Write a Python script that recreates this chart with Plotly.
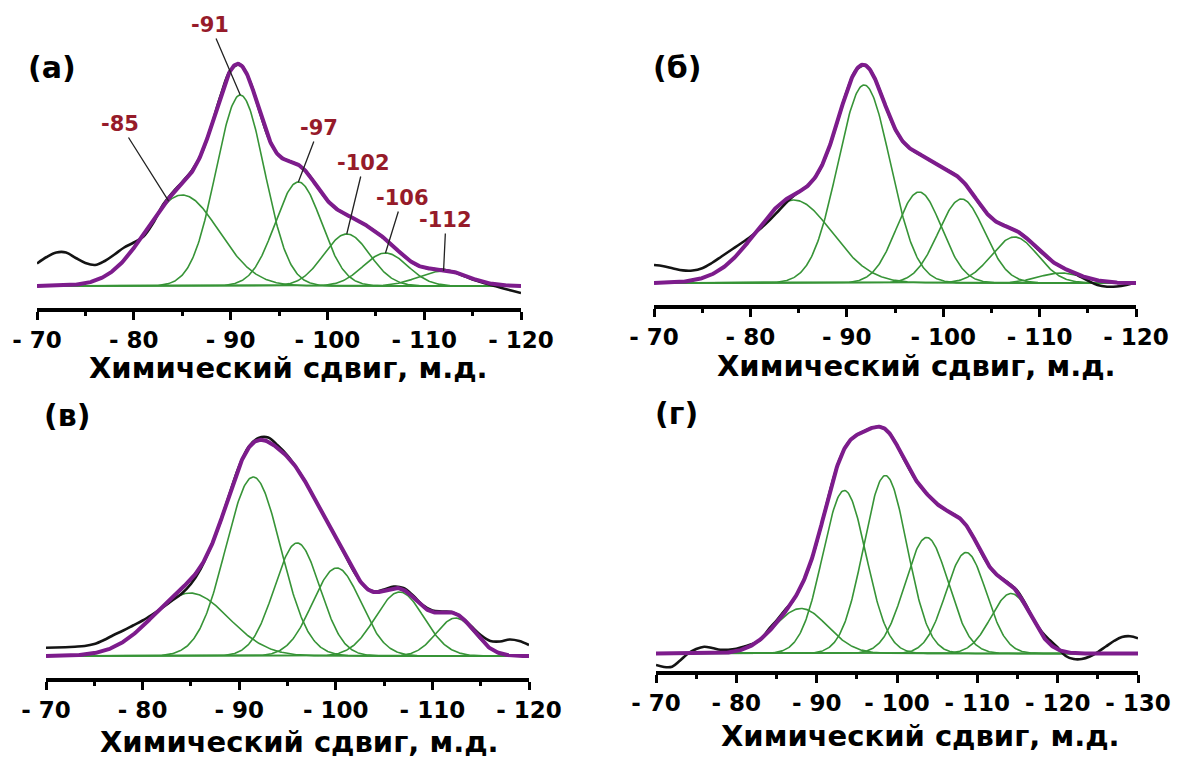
import numpy as np
import plotly.graph_objects as go

W, H = 1187, 763

# ---- deconvolution components: centre (ppm), height (a.u.), FWHM (ppm) ----
a_centers = [-85, -91, -97, -102, -106, -112]
a_heights = [91, 191, 104, 52, 33, 15]
a_fwhm = [8.9, 5.9, 5.65, 5.6, 5.4, 6.0]

b_centers = [-84.5, -91.8, -97.5, -101.9, -107.4, -112.2]
b_heights = [83, 198, 91, 84, 46, 10]
b_fwhm = [9.4, 6.4, 5.5, 5.65, 5.65, 5.4]

v_centers = [-84.9, -91.45, -96.0, -100.1, -106.6, -112.4]
v_heights = [63, 179, 113, 88, 64, 38]
v_fwhm = [9.4, 6.7, 5.55, 5.9, 5.9, 4.7]

g_centers = [-88.05, -93.45, -98.55, -103.7, -108.6, -114.2]
g_heights = [45, 163, 178, 116, 101, 60]
g_fwhm = [7.8, 6.35, 6.35, 6.35, 5.9, 5.9]

# ---- measured spectra, 1 ppm step ----
a_ppm = list(range(-70, -121, -1))
a_signal = [22.5, 29, 33.5, 33.5, 28, 23, 21, 25, 31.5, 38.5,
            43.5, 49.5, 63, 81, 93.5, 104, 115.5, 132.5, 159.7, 191.3,
            215.8, 221.4, 204.7, 174.5, 146.3, 130.3, 125.0, 121.1, 112.3, 98.6,
            85.5, 76.6, 71.1, 66.2, 60.7, 54.2, 46.7, 37.9, 29.2, 22.2,
            18.4, 17.0, 16.1, 14.2, 10.5, 6.5, 3.5, 0.8, -2, -4.5, -7]

b_ppm = list(range(-70, -121, -1))
b_signal = [18, 16.8, 14.5, 12.6, 12.5, 14.8, 20, 26.5, 33, 39.5,
            46.3, 54, 63, 73, 83, 91.0, 97.7, 109.8, 131.0, 160.5,
            191.6, 213.5, 217.4, 202.5, 177.6, 154.2, 139.4, 131.6, 126.3, 120.6,
            115.2, 110.0, 102.1, 89.9, 76.0, 64.9, 58.7, 54.9, 49.8, 41.7,
            32.2, 23.8, 17.4, 12.5, 7.5, 2.5, -2.0, -3.7, -3.5, -2, 0.5]

v_ppm = list(range(-70, -121, -1))
v_signal = [8.3, 8.5, 8.8, 9.3, 10, 12, 16, 21, 25.5, 30.5,
            35.5, 41.5, 48, 55, 62, 72, 87, 107.7, 132.8, 162.1,
            190, 209.5, 218, 218.5, 210.5, 200.5, 187.3, 171.6, 153.9, 136.3,
            118.7, 100.3, 82.5, 69.3, 64.5, 66.5, 69.5, 68, 60.5, 51,
            45.5, 44.5, 44, 39, 30, 21, 15, 14.5, 16.5, 15, 11]

g_ppm = list(range(-70, -131, -1))
g_signal = [-11.5, -13.5, -13.2, -7, 0, 4.5, 6.8, 5.5, 3.8, 3.8,
            4.8, 7, 9.5, 13.5, 24, 33, 43, 52.1, 66.2, 85.3,
            110.9, 141.7, 172.5, 196.9, 211.7, 218.6, 222.6, 225.9, 226.5, 220.8,
            208.2, 192.3, 177.8, 166.4, 157.2, 149.5, 143.8, 139.5, 133.9, 123.6,
            108.7, 93.4, 82.0, 75.4, 69.8, 62.5, 49.5, 34, 22, 13.5,
            6, -2.5, -5.5, -5.5, -3, 1.5, 7, 12.5, 16.5, 17.3, 15.2]

# ---- axis ticks ----
ab_ticks = [-70, -80, -90, -100, -110, -120]
ab_ticklabels = ["- 70", "- 80", "- 90", "- 100", "- 110", "- 120"]
ab_minor = [-75, -85, -95, -105, -115]
g_ticks = [-70, -80, -90, -100, -110, -120, -130]
g_ticklabels = ["- 70", "- 80", "- 90", "- 100", "- 110", "- 120", "- 130"]
g_minor = [-75, -85, -95, -105, -115, -125]

panel_labels = ["(а)", "(б)", "(в)", "(г)"]
axis_title = "Химический сдвиг, м.д."

GREEN = "#379437"
PURPLE = "#7d1c8c"
BLACK = "#141414"
LABEL_RED = "#961b2a"
FONT = "DejaVu Sans"


def gauss(x, c, h, w):
    return h * np.exp(-4 * np.log(2) * (np.asarray(x) - c) ** 2 / w ** 2)


panels = [
    dict(c=a_centers, h=a_heights, w=a_fwhm, ppm=a_ppm, sig=a_signal, lo=-70, hi=-120),
    dict(c=b_centers, h=b_heights, w=b_fwhm, ppm=b_ppm, sig=b_signal, lo=-70, hi=-120),
    dict(c=v_centers, h=v_heights, w=v_fwhm, ppm=v_ppm, sig=v_signal, lo=-70, hi=-120),
    dict(c=g_centers, h=g_heights, w=g_fwhm, ppm=g_ppm, sig=g_signal, lo=-70, hi=-130),
]

fig = go.Figure()
for i, p in enumerate(panels):
    ax = "" if i == 0 else str(i + 1)
    x = np.linspace(p["lo"], p["hi"], 601)
    total = np.zeros_like(x)
    for c, h, w in zip(p["c"], p["h"], p["w"]):
        y = gauss(x, c, h, w)
        total += y
        fig.add_trace(go.Scatter(x=x, y=y, mode="lines", line=dict(color=GREEN, width=1.6),
                                 xaxis="x" + ax, yaxis="y" + ax, hoverinfo="skip"))
    # measured spectrum
    fig.add_trace(go.Scatter(x=p["ppm"], y=p["sig"], mode="lines",
                             line=dict(color=BLACK, width=2.6, shape="spline", smoothing=1.0),
                             xaxis="x" + ax, yaxis="y" + ax))
    # cumulative fit
    fig.add_trace(go.Scatter(x=x, y=total, mode="lines", line=dict(color=PURPLE, width=4),
                             xaxis="x" + ax, yaxis="y" + ax))


def xcfg(x0, x1, rng, ticks, labels, minor, anchor):
    return dict(domain=[x0 / W, x1 / W], range=rng, anchor=anchor, automargin=False,
                tickmode="array", tickvals=ticks, ticktext=labels,
                ticks="outside", ticklen=8, tickwidth=2.5, tickcolor="black",
                showline=True, linewidth=4, linecolor="black",
                showgrid=False, zeroline=False,
                tickfont=dict(family=FONT, size=23, color="black", weight="bold"),
                minor=dict(tickvals=minor, ticks="outside", ticklen=4, tickwidth=2.5,
                           tickcolor="black", showgrid=False))


def ycfg(top_px, bot_px, base_px, anchor):
    return dict(domain=[1 - bot_px / H, 1 - top_px / H], automargin=False,
                range=[base_px - bot_px, base_px - top_px],
                visible=False, anchor=anchor)


fig.update_layout(
    width=W, height=H, margin=dict(l=0, r=0, t=0, b=0, pad=0, autoexpand=False),
    paper_bgcolor="white", plot_bgcolor="white", showlegend=False,
    xaxis=xcfg(37, 521, [-70, -120], ab_ticks, ab_ticklabels, ab_minor, "y"),
    yaxis=ycfg(20, 308, 286, "x"),
    xaxis2=xcfg(654, 1136, [-70, -120], ab_ticks, ab_ticklabels, ab_minor, "y2"),
    yaxis2=ycfg(20, 305, 283, "x2"),
    xaxis3=xcfg(46, 529, [-70, -120], ab_ticks, ab_ticklabels, ab_minor, "y3"),
    yaxis3=ycfg(395, 678, 656, "x3"),
    xaxis4=xcfg(656, 1138, [-70, -130], g_ticks, g_ticklabels, g_minor, "y4"),
    yaxis4=ycfg(395, 671, 653.5, "x4"),
)

ann = []
for (cx, cy) in [(288, 368), (916, 366), (300, 742), (920, 736)]:
    ann.append(dict(text=axis_title, x=cx / W, y=1 - cy / H, xref="paper", yref="paper",
                    showarrow=False, xanchor="center", yanchor="middle",
                    font=dict(family=FONT, size=29, color="black", weight="bold")))
for lab, (cx, cy) in zip(panel_labels, [(52, 67), (677, 67), (67, 415), (676, 413)]):
    ann.append(dict(text=lab, x=cx / W, y=1 - cy / H, xref="paper", yref="paper",
                    showarrow=False, xanchor="center", yanchor="middle",
                    font=dict(family=FONT, size=30, color="black", weight="bold")))

# peak labels of panel (а): label position and the point on the curve the leader touches
label_pos = [(-78.57, 162), (-87.9, 261), (-99.13, 158), (-103.78, 123), (-107.76, 88), (-112.25, 66)]
touch_x = [-83.6, None, None, None, None, None]
for c, h, w, (lx, ly), tx in zip(a_centers, a_heights, a_fwhm, label_pos, touch_x):
    if tx is None:
        px, py = c, h
    else:
        px, py = tx, float(gauss(tx, c, h, w))
    ann.append(dict(text=f"{c:g}", x=px, y=py, xref="x", yref="y", ax=lx, ay=ly,
                    axref="x", ayref="y", showarrow=True, arrowhead=0, arrowwidth=1.3,
                    arrowcolor="#222222", standoff=0,
                    font=dict(family=FONT, size=21, color=LABEL_RED, weight="bold")))
fig.update_layout(annotations=ann)

fig.write_html("out.html")
